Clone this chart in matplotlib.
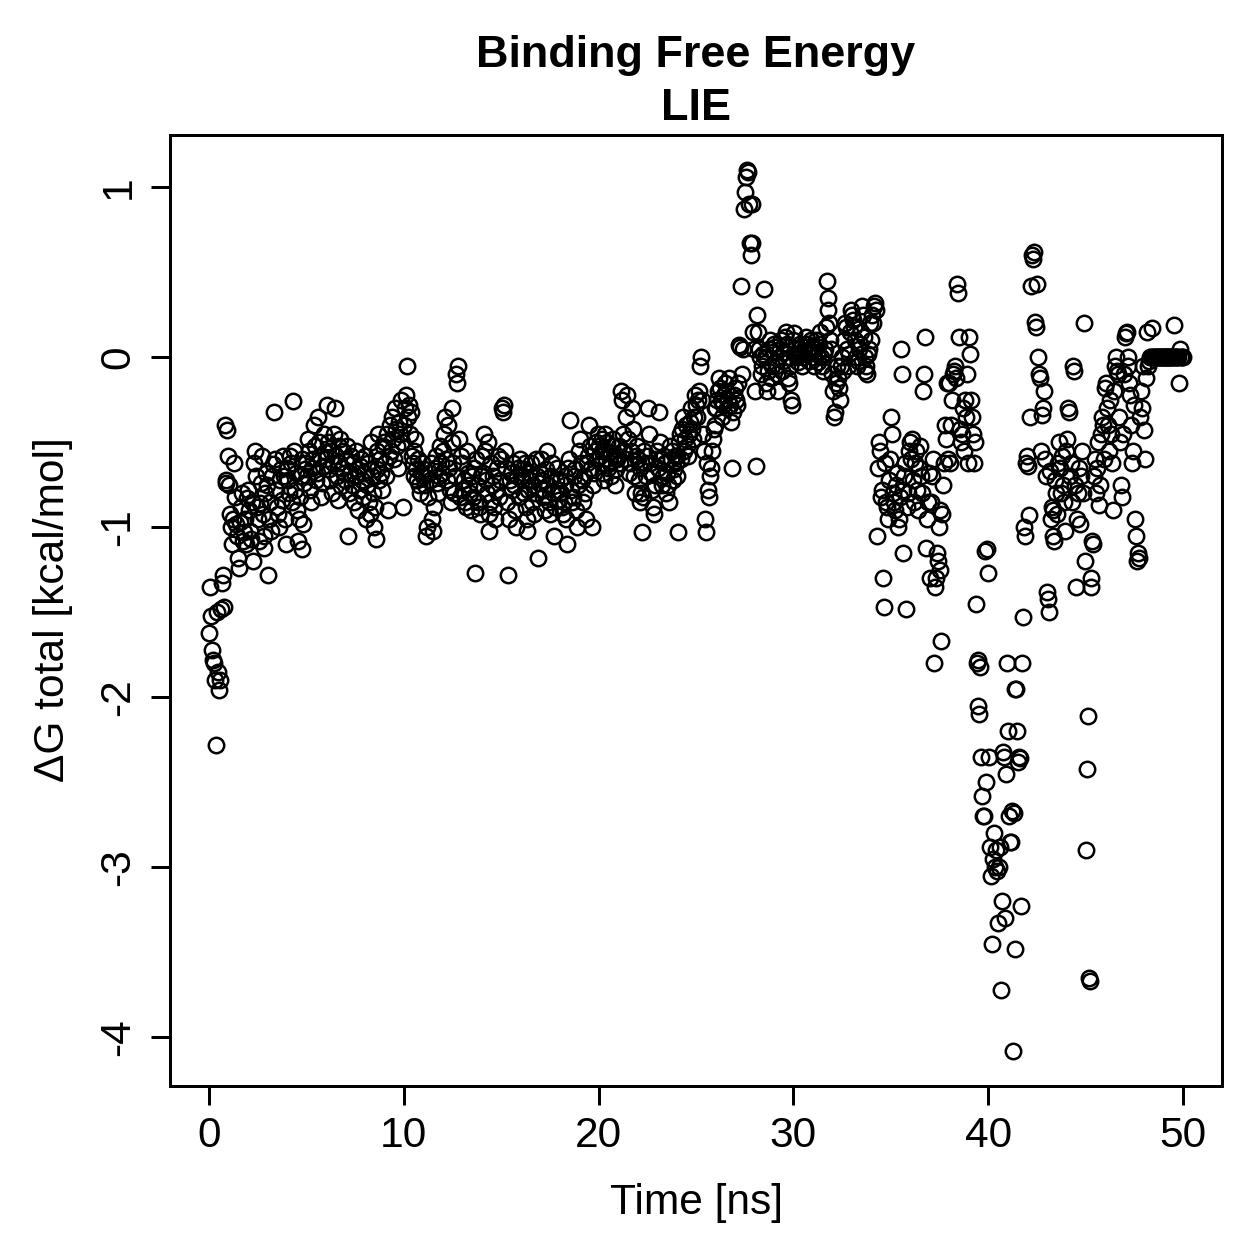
import numpy as np
import matplotlib
matplotlib.use("Agg")
import matplotlib.pyplot as plt

plt.rcParams['font.family'] = ['Liberation Sans', 'DejaVu Sans']
plt.rcParams['axes.unicode_minus'] = False

# dG total (kcal/mol), one row per ns, 0.05 ns per frame
dg_rows = [
    [-1.62, -1.35, -1.52, -1.72, -1.78, -1.80, -1.90, -2.28, -1.50, -1.85, -1.96, -1.90, -1.48, -1.33, -1.28, -1.47, -0.40, -0.74, -0.72, -0.43],
    [-0.58, -0.75, -0.92, -1.00, -1.10, -0.95, -0.62, -0.82, -0.98, -1.05, -1.18, -1.24, -0.97, -0.88, -0.80, -1.08, -1.03, -0.95, -1.10, -0.83],
    [-0.78, -0.90, -1.02, -1.07, -0.85, -1.20, -0.62, -0.55, -0.70, -0.88, -0.95, -1.08, -0.86, -0.74, -0.58, -0.92, -1.12, -1.05, -0.80, -0.68],
    [-0.75, -1.28, -0.95, -0.85, -1.02, -0.70, -0.63, -0.32, -0.60, -0.78, -0.88, -0.92, -1.00, -0.72, -0.66, -0.84, -0.58, -0.70, -0.95, -1.10],
    [-0.65, -0.72, -0.80, -0.58, -0.62, -0.85, -0.26, -0.55, -0.78, -0.68, -0.90, -1.08, -0.95, -0.82, -0.70, -0.60, -1.13, -0.98, -0.74, -0.66],
    [-0.62, -0.70, -0.48, -0.55, -0.78, -0.85, -0.65, -0.60, -0.40, -0.52, -0.72, -0.68, -0.35, -0.50, -0.58, -0.82, -0.74, -0.64, -0.45, -0.56],
    [-0.60, -0.28, -0.50, -0.66, -0.72, -0.55, -0.80, -0.62, -0.45, -0.30, -0.58, -0.70, -0.84, -0.52, -0.62, -0.48, -0.76, -0.65, -0.55, -0.68],
    [-0.72, -0.60, -0.52, -1.05, -0.80, -0.68, -0.58, -0.75, -0.62, -0.85, -0.70, -0.55, -0.66, -0.90, -0.78, -0.64, -0.60, -0.72, -0.82, -0.68],
    [-0.58, -0.95, -0.75, -0.62, -0.85, -0.92, -0.50, -0.70, -0.80, -1.00, -0.88, -1.07, -0.66, -0.55, -0.45, -0.72, -0.60, -0.68, -0.78, -0.52],
    [-0.50, -0.62, -0.70, -0.45, -0.90, -0.58, -0.40, -0.55, -0.35, -0.48, -0.60, -0.30, -0.42, -0.52, -0.65, -0.38, -0.45, -0.25, -0.50, -0.88],
    [-0.40, -0.30, -0.22, -0.05, -0.35, -0.28, -0.45, -0.32, -0.58, -0.62, -0.70, -0.55, -0.48, -0.66, -0.72, -0.60, -0.75, -0.80, -0.68, -0.62],
    [-0.70, -0.66, -0.75, -1.05, -1.00, -0.82, -0.68, -0.72, -0.62, -0.95, -1.02, -0.88, -0.65, -0.58, -0.74, -0.80, -0.70, -0.52, -0.62, -0.68],
    [-0.55, -0.45, -0.35, -0.60, -0.72, -0.40, -0.65, -0.78, -0.85, -0.30, -0.50, -0.62, -0.80, -0.70, -0.10, -0.15, -0.05, -0.48, -0.82, -0.58],
    [-0.62, -0.78, -0.72, -0.85, -0.88, -0.55, -0.68, -0.75, -0.80, -0.90, -0.70, -0.82, -0.65, -1.27, -0.60, -0.75, -0.85, -0.88, -0.92, -0.70],
    [-0.58, -0.68, -0.45, -0.55, -0.72, -0.80, -0.50, -0.92, -1.02, -0.85, -0.62, -0.75, -0.70, -0.88, -0.95, -0.78, -0.65, -0.58, -0.82, -0.72],
    [-0.60, -0.30, -0.32, -0.28, -0.55, -0.65, -0.85, -1.28, -0.95, -0.72, -0.68, -0.78, -0.62, -0.75, -0.90, -1.00, -0.70, -0.65, -0.82, -0.60],
    [-0.70, -0.72, -0.66, -0.80, -0.62, -0.88, -0.95, -1.02, -0.78, -0.68, -0.72, -0.62, -0.85, -0.75, -0.92, -0.80, -0.60, -0.70, -1.18, -0.74],
    [-0.68, -0.60, -0.72, -0.82, -0.78, -0.90, -0.66, -0.55, -0.75, -0.85, -0.92, -0.70, -0.62, -0.80, -1.05, -0.88, -0.72, -0.65, -0.78, -0.84],
    [-0.72, -0.80, -0.88, -0.92, -0.85, -0.75, -0.70, -0.95, -1.10, -0.65, -0.60, -0.37, -0.78, -0.85, -0.82, -0.70, -0.66, -0.90, -1.00, -0.75],
    [-0.55, -0.48, -0.62, -0.72, -0.85, -0.70, -0.80, -0.95, -0.62, -0.58, -0.40, -0.52, -0.65, -1.00, -0.75, -0.68, -0.55, -0.50, -0.60, -0.45],
    [-0.52, -0.58, -0.62, -0.48, -0.55, -0.68, -0.72, -0.45, -0.60, -0.50, -0.65, -0.56, -0.62, -0.70, -0.52, -0.48, -0.58, -0.75, -0.66, -0.60],
    [-0.58, -0.52, -0.62, -0.20, -0.25, -0.45, -0.55, -0.60, -0.35, -0.22, -0.48, -0.68, -0.62, -0.55, -0.30, -0.42, -0.70, -0.80, -0.58, -0.52],
    [-0.60, -0.72, -0.65, -0.85, -0.80, -1.03, -0.82, -0.55, -0.62, -0.70, -0.58, -0.30, -0.45, -0.62, -0.68, -0.78, -0.88, -0.92, -0.75, -0.60],
    [-0.55, -0.65, -0.32, -0.50, -0.60, -0.75, -0.70, -0.58, -0.62, -0.80, -0.68, -0.75, -0.85, -0.52, -0.60, -0.55, -0.72, -0.66, -0.58, -0.62],
    [-0.58, -0.70, -1.03, -0.50, -0.45, -0.60, -0.42, -0.35, -0.55, -0.48, -0.40, -0.52, -0.58, -0.45, -0.38, -0.30, -0.42, -0.48, -0.35, -0.22],
    [-0.28, -0.35, -0.25, -0.20, -0.05, 0.00, -0.25, -0.45, -0.55, -0.95, -1.03, -0.62, -0.78, -0.82, -0.70, -0.65, -0.55, -0.48, -0.42, -0.30],
    [-0.40, -0.30, -0.25, -0.20, -0.12, -0.18, -0.25, -0.35, -0.28, -0.22, -0.15, -0.20, -0.30, -0.25, -0.12, -0.28, -0.38, -0.65, -0.32, -0.22],
    [-0.18, -0.25, -0.28, -0.15, 0.07, 0.06, 0.42, -0.10, 0.05, 0.87, 0.97, 1.06, 1.10, 1.09, 0.90, 0.67, 0.60, 0.67, 0.90, 0.15],
    [0.05, -0.20, -0.64, 0.25, 0.15, 0.05, 0.00, -0.10, -0.05, 0.02, 0.40, 0.00, -0.15, -0.20, -0.08, 0.05, 0.10, -0.12, -0.05, 0.03],
    [0.08, 0.06, -0.05, -0.10, -0.20, 0.00, 0.05, 0.10, -0.08, -0.02, 0.03, 0.12, 0.15, 0.08, -0.12, -0.15, -0.05, 0.00, -0.25, -0.28],
    [0.10, 0.14, 0.05, 0.02, 0.00, -0.03, 0.05, 0.08, 0.02, -0.05, 0.00, 0.03, 0.06, 0.12, 0.08, 0.02, -0.02, 0.04, 0.10, 0.06],
    [0.00, -0.05, 0.05, 0.10, 0.02, -0.03, 0.08, 0.15, 0.00, -0.05, -0.08, 0.02, 0.05, 0.18, 0.45, 0.35, 0.28, 0.20, 0.10, 0.05],
    [-0.10, -0.20, -0.35, -0.32, -0.15, -0.05, -0.12, -0.18, -0.25, -0.05, 0.00, -0.08, 0.10, 0.20, 0.18, 0.05, -0.05, 0.02, 0.15, 0.28],
    [0.25, 0.22, 0.18, 0.10, 0.00, -0.05, -0.02, 0.05, 0.08, 0.15, 0.30, 0.25, 0.12, 0.00, -0.08, -0.05, -0.10, 0.02, 0.05, 0.20],
    [0.10, 0.25, 0.20, 0.30, 0.32, 0.28, -1.05, -0.65, -0.50, -0.55, -0.82, -0.78, -1.30, -1.47, -0.62, -0.85, -0.88, -0.95, -0.72, -0.60],
    [-0.35, -0.45, -0.80, -0.85, -0.90, -0.75, -0.68, -1.00, -0.95, -0.82, 0.05, -0.10, -1.15, -0.78, -0.70, -0.62, -1.48, -0.88, -0.80, -0.55],
    [-0.50, -0.60, -0.48, -0.72, -0.85, -0.62, -0.55, -0.78, -0.90, -0.65, -0.52, -0.70, -0.80, -0.20, -0.10, 0.12, -1.12, -0.95, -0.85, -0.68],
    [-1.30, -0.85, -0.70, -0.60, -1.80, -1.35, -1.30, -1.15, -1.20, -1.00, -0.90, -1.25, -1.67, -0.92, -0.75, -0.62, -0.40, -0.48, -0.15, -0.60],
    [-0.15, -0.62, -0.40, -0.25, -0.10, -0.08, -0.05, -0.12, 0.43, 0.38, 0.12, -0.42, -0.50, -0.45, -0.30, -0.55, -0.25, -0.35, -0.10, -0.62],
    [0.12, 0.02, -0.25, -0.35, -0.45, -0.62, -0.50, -1.45, -1.80, -1.78, -2.05, -2.10, -1.82, -2.35, -2.58, -2.70, -2.70, -1.14, -2.50, -1.13],
    [-1.27, -2.35, -2.88, -3.05, -3.45, -2.95, -2.80, -3.00, -2.90, -3.02, -3.33, -3.00, -2.88, -3.72, -3.20, -2.32, -2.35, -3.30, -2.45, -1.80],
    [-2.20, -2.70, -2.85, -2.85, -2.67, -4.08, -2.68, -3.48, -1.95, -1.95, -2.20, -2.38, -2.35, -2.36, -3.23, -1.80, -1.53, -1.00, -1.05, -0.62],
    [-0.58, -0.64, -0.93, -0.35, 0.42, 0.60, 0.58, 0.62, 0.21, 0.18, 0.43, 0.00, -0.10, -0.12, -0.55, -0.34, -0.30, -0.20, -0.60, -0.70],
    [-1.38, -1.42, -1.50, -0.67, -0.95, -0.88, -0.90, -1.05, -1.08, -0.72, -0.80, -0.92, -0.62, -0.50, -0.65, -0.80, -0.58, -0.75, -0.85, -1.02],
    [-0.55, -0.48, -0.30, -0.32, -0.70, -0.62, -0.85, -0.05, -0.08, -0.75, -1.35, -0.95, -0.80, -0.65, -0.98, -0.70, -0.55, -0.80, 0.20, -1.20],
    [-2.90, -2.42, -2.11, -3.65, -3.67, -1.30, -1.35, -1.08, -1.10, -0.70, -0.60, -0.80, -0.65, -0.50, -0.87, -0.75, -0.45, -0.35, -0.40, -0.60],
    [-0.18, -0.15, -0.30, -0.40, -0.55, -0.25, -0.45, -0.62, -0.90, -0.20, -0.05, 0.00, -0.08, -0.10, -0.35, -0.50, -0.75, -0.82, -0.45, -0.10],
    [0.12, 0.14, 0.15, -0.05, 0.00, -0.15, -0.22, -0.40, -0.62, -0.55, -0.28, -0.95, -1.05, -1.20, -1.15, -1.18, -0.35, -0.20, -0.30, -0.05],
    [-0.43, -0.60, -0.12, 0.15, -0.05, -0.02, 0.00, 0.00, 0.17, 0.00, 0.00, 0.00, 0.00, 0.00, 0.00, 0.00, 0.00, 0.00, 0.00, 0.00],
    [0.00, 0.00, 0.00, 0.00, 0.00, 0.00, 0.00, 0.00, 0.00, 0.00, 0.00, 0.19, 0.00, 0.00, 0.00, 0.00, -0.15, 0.05, 0.00, 0.00, 0.00],
]

dg = np.concatenate([np.array(r) for r in dg_rows])
time_ns = np.arange(len(dg)) * 0.05

x_ticks = [0, 10, 20, 30, 40, 50]
y_ticks = [-4, -3, -2, -1, 0, 1]

fig = plt.figure(figsize=(1259 / 300, 1259 / 300), dpi=300)
ax = fig.add_axes([170 / 1259, 1 - 1086 / 1259, (1222 - 170) / 1259, (1086 - 135) / 1259])

ax.plot(time_ns, dg, linestyle='none', marker='o', markersize=3.7,
        markerfacecolor='none', markeredgecolor='black', markeredgewidth=0.6)

# R-style 4% padding
xr = time_ns.max() - time_ns.min()
yr = dg.max() - dg.min()
ax.set_xlim(time_ns.min() - 0.04 * xr, time_ns.max() + 0.04 * xr)
ax.set_ylim(dg.min() - 0.04 * yr, dg.max() + 0.04 * yr)

ax.set_xticks(x_ticks)
ax.set_yticks(y_ticks)
ax.tick_params(direction='out', length=4.6, width=0.72, labelsize=10.2, pad=2.5)
ax.tick_params(axis='y', pad=3)
for lab in ax.get_yticklabels():
    lab.set_rotation(90)
    lab.set_va('center')
for s in ax.spines.values():
    s.set_linewidth(0.72)

fig.text(696 / 1259, 1 - 67 / 1259, 'Binding Free Energy', ha='center', va='baseline',
         fontsize=10.8, fontweight='bold')
fig.text(696 / 1259, 1 - 120 / 1259, 'LIE', ha='center', va='baseline',
         fontsize=10.8, fontweight='bold')
fig.text(696 / 1259, 1 - 1203 / 1259, 'Time [ns]', ha='center', va='center', fontsize=10.2)
fig.text(53 / 1259, 1 - 610 / 1259, 'ΔG total [kcal/mol]', ha='center', va='center',
         rotation=90, fontsize=10.2)

fig.savefig('out.png', dpi=300)
